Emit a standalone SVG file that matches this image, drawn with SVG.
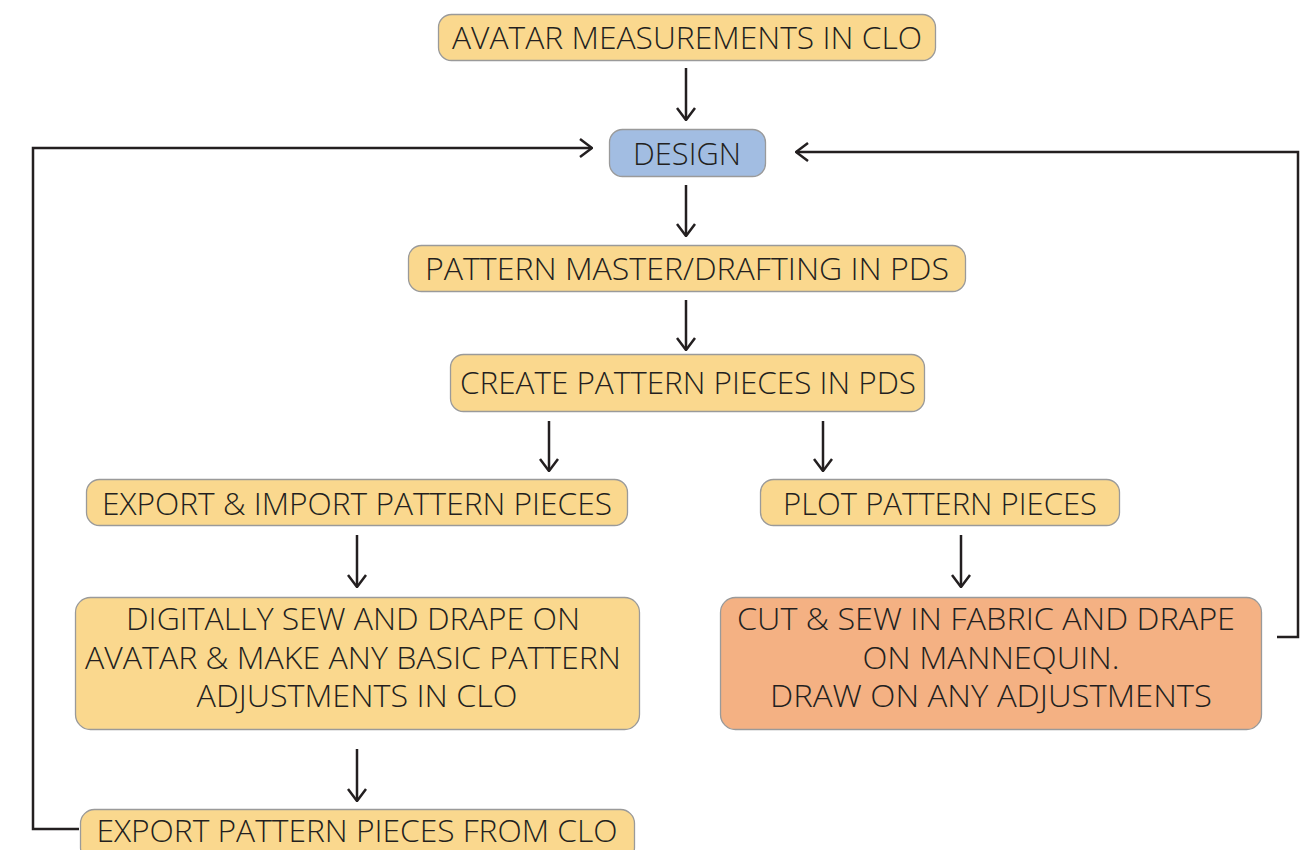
<svg xmlns="http://www.w3.org/2000/svg" width="1307" height="850" viewBox="0 0 1307 850">
<style>
.box{stroke:#9a9a9a;stroke-width:1.3}
.y{fill:#fad88e}
.b{fill:#a2bde2}
.o{fill:#f4b183}
.t{font-family:"Open Sans","Noto Sans",sans-serif;font-weight:300;font-size:31px;fill:#231f20;text-anchor:middle}
.c{fill:none;stroke:#231f20;stroke-width:2.5}
</style>
<defs>
<marker id="ah" viewBox="0 0 14 20" refX="13" refY="10" markerWidth="14" markerHeight="20" markerUnits="userSpaceOnUse" orient="auto">
<path d="M1,1 L13,10 L1,19" fill="none" stroke="#231f20" stroke-width="2.5"/>
</marker>
</defs>
<rect width="1307" height="850" fill="#fff"/>
<g id="connectors">
<line class="c" x1="686" y1="68" x2="686" y2="120" marker-end="url(#ah)"/>
<line class="c" x1="686" y1="185" x2="686" y2="236" marker-end="url(#ah)"/>
<line class="c" x1="686" y1="300" x2="686" y2="350" marker-end="url(#ah)"/>
<line class="c" x1="549" y1="421" x2="549" y2="471" marker-end="url(#ah)"/>
<line class="c" x1="823" y1="421" x2="823" y2="471" marker-end="url(#ah)"/>
<line class="c" x1="357" y1="535" x2="357" y2="587" marker-end="url(#ah)"/>
<line class="c" x1="961" y1="535" x2="961" y2="587" marker-end="url(#ah)"/>
<line class="c" x1="357" y1="749" x2="357" y2="801" marker-end="url(#ah)"/>
<polyline class="c" points="79,829 33,829 33,148 592,148" marker-end="url(#ah)"/>
<polyline class="c" points="1277,637 1298,637 1298,152 796,152" marker-end="url(#ah)"/>
</g>
<g id="n1"><rect class="box y" x="438.5" y="14.5" width="497" height="46" rx="13"/><text class="t" x="687" y="49" textLength="470" lengthAdjust="spacingAndGlyphs">AVATAR MEASUREMENTS IN CLO</text></g>
<g id="n2"><rect class="box b" x="609.5" y="129.5" width="156" height="47" rx="13"/><text class="t" x="687" y="165" textLength="108" lengthAdjust="spacingAndGlyphs">DESIGN</text></g>
<g id="n3"><rect class="box y" x="408.5" y="245.5" width="557" height="46" rx="13"/><text class="t" x="687" y="280" textLength="524" lengthAdjust="spacingAndGlyphs">PATTERN MASTER/DRAFTING IN PDS</text></g>
<g id="n4"><rect class="box y" x="450.5" y="354.5" width="474" height="57" rx="13"/><text class="t" x="688" y="394" textLength="456" lengthAdjust="spacingAndGlyphs">CREATE PATTERN PIECES IN PDS</text></g>
<g id="n5"><rect class="box y" x="86.5" y="479.5" width="541" height="46" rx="13"/><text class="t" x="357" y="515" textLength="510" lengthAdjust="spacingAndGlyphs">EXPORT &amp; IMPORT PATTERN PIECES</text></g>
<g id="n6"><rect class="box y" x="760.5" y="479.5" width="359" height="46" rx="13"/><text class="t" x="940" y="515" textLength="314" lengthAdjust="spacingAndGlyphs">PLOT PATTERN PIECES</text></g>
<g id="n7"><rect class="box y" x="75.5" y="597.5" width="564" height="132" rx="15"/>
<text class="t" x="353" y="630" textLength="454" lengthAdjust="spacingAndGlyphs">DIGITALLY SEW AND DRAPE ON</text>
<text class="t" x="353" y="669" textLength="536" lengthAdjust="spacingAndGlyphs">AVATAR &amp; MAKE ANY BASIC PATTERN</text>
<text class="t" x="357" y="707" textLength="321" lengthAdjust="spacingAndGlyphs">ADJUSTMENTS IN CLO</text></g>
<g id="n8"><rect class="box o" x="720.5" y="597.5" width="541" height="132" rx="15"/>
<text class="t" x="986" y="630" textLength="498" lengthAdjust="spacingAndGlyphs">CUT &amp; SEW IN FABRIC AND DRAPE</text>
<text class="t" x="991" y="669" textLength="257" lengthAdjust="spacingAndGlyphs">ON MANNEQUIN.</text>
<text class="t" x="991" y="707" textLength="442" lengthAdjust="spacingAndGlyphs">DRAW ON ANY ADJUSTMENTS</text></g>
<g id="n9"><rect class="box y" x="80.5" y="809.5" width="554" height="52" rx="14"/><text class="t" x="357" y="842" textLength="521" lengthAdjust="spacingAndGlyphs">EXPORT PATTERN PIECES FROM CLO</text></g>
</svg>
